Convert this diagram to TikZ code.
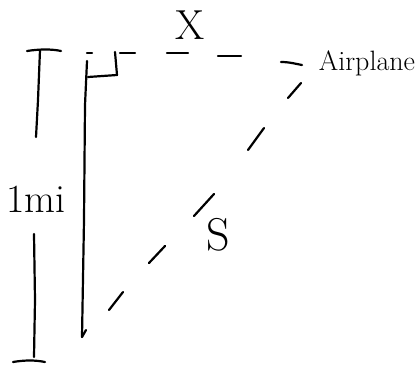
\documentclass[tikz,border=0pt]{standalone}
\begin{document}
\begin{tikzpicture}[x=1pt,y=-1pt,
  pen/.style={line width=2.2pt,line cap=round,line join=round,black},
  lbl/.style={inner sep=0pt,black}]
\useasboundingbox (0,0) rectangle (420,367);
% left dimension bracket
\draw[pen] (27,51) .. controls (40,49) and (52,49) .. (61,51);
\draw[pen] (40,50) -- (38,100) -- (36,137);
\draw[pen] (34,234) -- (35,300) -- (34,357);
\draw[pen] (13,362) .. controls (25,360) and (35,360) .. (45,362);
\node[lbl,font=\fontsize{40}{40}\selectfont] (mi) at (36,199) {1mi};
% vertical altitude line
\coordinate (top) at (87,61);
\coordinate (bot) at (82,337);
\draw[pen] (top) -- (85,105) -- (84,220) -- (bot);
\draw[pen] (bot) -- (86,330);
% right angle mark
\draw[pen] (88,77) -- (117,75) -- (115,52);
% horizontal dashed line X
\draw[pen] (87,53) -- (92,53);
\draw[pen] (120,53) -- (135,53);
\draw[pen] (167,53) -- (188,53);
\draw[pen] (218,56) -- (241,56);
\draw[pen] (281,62) .. controls (290,62) and (296,64) .. (302,65);
\node[lbl,font=\fontsize{42}{42}\selectfont] (X) at (190,25) {X};
% diagonal dashed line S
\draw[pen] (301,83) -- (288,98);
\draw[pen] (264,128) -- (248,150);
\draw[pen] (214,194) -- (194,216);
\draw[pen] (165,246) -- (149,263);
\draw[pen] (123,292) -- (109,310);
\node[lbl,font=\fontsize{46}{46}\selectfont] (S) at (218,235) {S};
% airplane label
\node[lbl,font=\fontsize{28}{28}\selectfont] (plane) at (367,63) {Airplane};
\end{tikzpicture}
\end{document}
